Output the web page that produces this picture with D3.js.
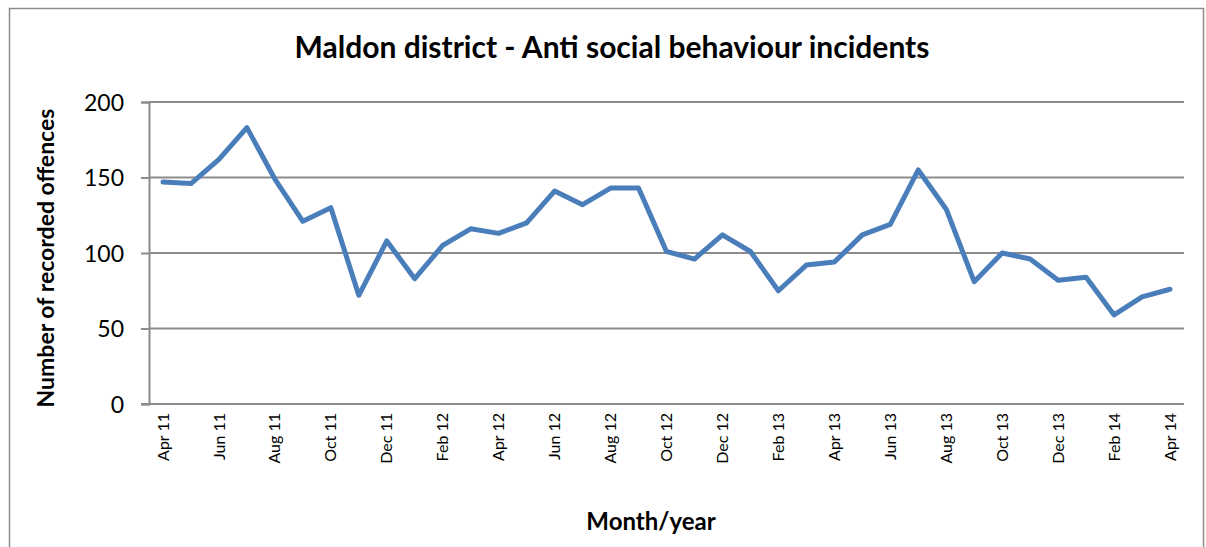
<!DOCTYPE html>
<html>
<head>
<meta charset="utf-8">
<script src="https://cdn.jsdelivr.net/npm/d3@7"></script>
<style>
  body { margin: 0; background: #fff; }
  text { font-family: Lato, "Open Sans", sans-serif; fill: #000; }
</style>
</head>
<body>
<svg id="chart"></svg>
<script>
//*************** data ******************//
var months = ["Apr 11","May 11","Jun 11","Jul 11","Aug 11","Sep 11","Oct 11","Nov 11","Dec 11",
  "Jan 12","Feb 12","Mar 12","Apr 12","May 12","Jun 12","Jul 12","Aug 12","Sep 12","Oct 12","Nov 12","Dec 12",
  "Jan 13","Feb 13","Mar 13","Apr 13","May 13","Jun 13","Jul 13","Aug 13","Sep 13","Oct 13","Nov 13","Dec 13",
  "Jan 14","Feb 14","Mar 14","Apr 14"];
var incidents = [147,146,162,183,149,121,130,72,108,
  83,105,116,113,120,141,132,143,143,101,96,112,
  101,75,92,94,112,119,155,129,81,100,96,82,
  84,59,71,76];
var yTicks = [0, 50, 100, 150, 200];

//*************** canvas ******************//
var W = 1206, H = 547;
var margin = {top: 102, right: 22, bottom: 143, left: 149};
var width = W - margin.left - margin.right,
    height = H - margin.top - margin.bottom;

var svg = d3.select("#chart").attr("width", W).attr("height", H);

// outer chart border
svg.append("rect")
  .attr("x", 9.5).attr("y", 8.5)
  .attr("width", 1194).attr("height", 560)
  .attr("fill", "none").attr("stroke", "#8c8c8c").attr("stroke-width", 1.5);

var plot = svg.append("g")
  .attr("transform", "translate(" + margin.left + "," + margin.top + ")");

// scales
var xScale = d3.scaleBand().domain(months).range([0, width]);
var yScale = d3.scaleLinear().domain([0, 200]).range([height, 0]);

// gridlines
plot.append("g").selectAll("line")
  .data(yTicks.filter(function(d) { return d > 0; }))
  .enter().append("line")
  .attr("x1", 0).attr("x2", width)
  .attr("y1", function(d) { return yScale(d); })
  .attr("y2", function(d) { return yScale(d); })
  .attr("stroke", "#8c8c8c").attr("stroke-width", 2);

// y axis
var yAxis = plot.append("g")
  .call(d3.axisLeft(yScale).tickValues(yTicks).tickSize(8).tickPadding(17));
yAxis.select(".domain").attr("stroke", "#8c8c8c").attr("stroke-width", 2);
yAxis.selectAll(".tick line").attr("stroke", "#8c8c8c").attr("stroke-width", 2);
yAxis.selectAll("text").style("font-size", "23px").attr("dy", "0.35em");

// x axis (labels every other month, no tick marks)
var xAxis = plot.append("g")
  .attr("transform", "translate(0," + height + ")")
  .call(d3.axisBottom(xScale)
    .tickValues(months.filter(function(d, i) { return i % 2 === 0; }))
    .tickSize(0).tickPadding(0));
xAxis.select(".domain").attr("stroke", "#8c8c8c").attr("stroke-width", 2)
  .attr("d", "M-8,0H" + width);
xAxis.selectAll("text")
  .style("font-size", "16px")
  .attr("text-anchor", "end")
  .attr("transform", "rotate(-90)")
  .attr("x", -9).attr("y", 0).attr("dy", "0.35em");

// line
var line = d3.line()
  .x(function(d, i) { return xScale(months[i]) + xScale.bandwidth() / 2; })
  .y(function(d) { return yScale(d); });

plot.append("path")
  .datum(incidents)
  .attr("fill", "none")
  .attr("stroke", "#4a7ebb")
  .attr("stroke-width", 5)
  .attr("stroke-linejoin", "round")
  .attr("stroke-linecap", "round")
  .attr("d", line);

// title
svg.append("text")
  .attr("x", 612).attr("y", 58)
  .attr("text-anchor", "middle")
  .style("font-size", "30px").style("font-weight", "bold")
  .text("Maldon district - Anti social behaviour incidents");

// y axis title
svg.append("text")
  .attr("transform", "translate(54,258) rotate(-90)")
  .attr("text-anchor", "middle")
  .style("font-size", "23px").style("font-weight", "bold")
  .text("Number of recorded offences");

// x axis title
svg.append("text")
  .attr("x", 651).attr("y", 530)
  .attr("text-anchor", "middle")
  .style("font-size", "24px").style("font-weight", "bold")
  .text("Month/year");
</script>
</body>
</html>
